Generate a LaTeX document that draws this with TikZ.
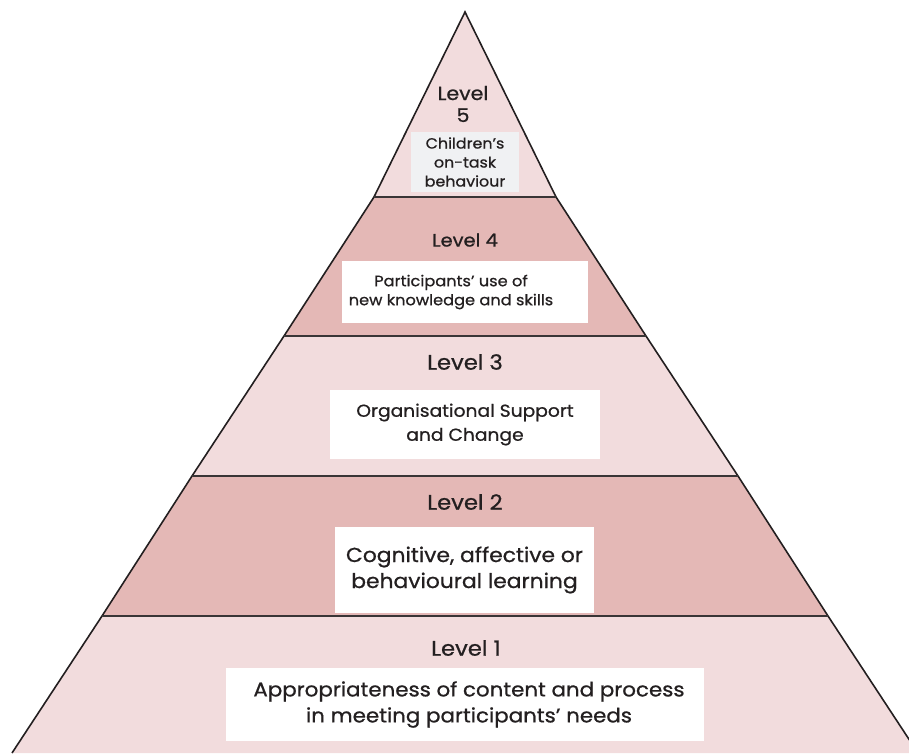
\documentclass[tikz,border=0pt]{standalone}
\usepackage{fontspec}
\setmainfont{Poppins}[FakeStretch=1.08,FakeBold=0.8]
\definecolor{bandlight}{RGB}{242,220,221}
\definecolor{banddark}{RGB}{228,184,182}
\definecolor{edgeink}{RGB}{35,31,32}
\definecolor{inkgray}{RGB}{35,31,32}
\definecolor{capbox}{RGB}{240,241,243}
\begin{document}
\begin{tikzpicture}[x=1pt,y=-1pt,
  lightband/.style={fill=bandlight},
  darkband/.style={fill=banddark},
  rim/.style={draw=edgeink,line width=1.6pt,line join=miter},
  divider/.style={draw=edgeink!90,line width=2.4pt},
  labelbox/.style={draw=none,fill=white,inner sep=0pt},
  leveltitle/.style={text=inkgray,inner sep=0pt,align=center},
  boxtext/.style={text=inkgray,inner sep=0pt,align=center}]
\useasboundingbox (0,0) rectangle (909,753);
\begin{scope}
\clip (0,0) rectangle (909,753);
% corner points of the stepped pyramid
\coordinate (apex) at (465,12);
\coordinate (l5) at (374,197); \coordinate (r5) at (556,197);
\coordinate (l4) at (284,336); \coordinate (r4) at (646,336);
\coordinate (l3) at (192,476); \coordinate (r3) at (738,476);
\coordinate (l2) at (102,616); \coordinate (r2) at (828,616);
\coordinate (l1) at (12,753);  \coordinate (r1) at (918,753);
% bands
\fill[lightband] (apex) -- (r5) -- (l5) -- cycle;
\fill[darkband] (l5) -- (r5) -- (r4) -- (l4) -- cycle;
\fill[lightband] (l4) -- (r4) -- (r3) -- (l3) -- cycle;
\fill[darkband] (l3) -- (r3) -- (r2) -- (l2) -- cycle;
\fill[lightband] (l2) -- (r2) -- (r1) -- (l1) -- cycle;
% outline and band dividers
\draw[rim] (l1) -- (l2) -- (l3) -- (l4) -- (l5) -- (apex) -- (r5) -- (r4) -- (r3) -- (r2) -- (r1);
\draw[divider] (l5) -- (r5);
\draw[divider] (l4) -- (r4);
\draw[divider] (l3) -- (r3);
\draw[divider] (l2) -- (r2);
\end{scope}

% level 5
\node[leveltitle,font=\fontsize{19}{22}\selectfont] (t5) at (463,104) {Level\\5};
\node[labelbox,fill=capbox,minimum width=108pt,minimum height=60pt] (b5) at (465,162) {};
\node[boxtext,font=\fontsize{14.7}{19}\selectfont] (x5) at (b5.center) {Children’s\\on-task\\behaviour};

% level 4
\node[leveltitle,font=\fontsize{18}{20}\selectfont] (t4) at (465,240) {Level 4};
\node[labelbox,minimum width=246pt,minimum height=62pt] (b4) at (465,292) {};
\node[boxtext,font=\fontsize{15}{19}\selectfont] (x4) at (451,292) {Participants’ use of\\new knowledge and skills};

% level 3
\node[leveltitle,font=\fontsize{21}{22}\selectfont] (t3) at (465,362) {Level 3};
\node[labelbox,minimum width=270pt,minimum height=69pt] (b3) at (465,424.5) {};
\node[boxtext,font=\fontsize{17.3}{24}\selectfont] (x3) at (b3.center) {Organisational Support\\and Change};

% level 2
\node[leveltitle,font=\fontsize{21}{22}\selectfont] (t2) at (465,502) {Level 2};
\node[labelbox,minimum width=259pt,minimum height=86pt] (b2) at (464.5,570) {};
\node[boxtext,font=\fontsize{20.2}{26}\selectfont] (x2) at (b2.center) {Cognitive, affective or\\behavioural learning};

% level 1
\node[leveltitle,font=\fontsize{21}{22}\selectfont] (t1) at (466,648) {Level 1};
\node[labelbox,minimum width=478pt,minimum height=73pt] (b1) at (465,704.5) {};
\node[boxtext,font=\fontsize{19.8}{26}\selectfont] (x1) at (469,704.5) {Appropriateness of content and process\\in meeting participants’ needs};
\end{tikzpicture}
\end{document}
